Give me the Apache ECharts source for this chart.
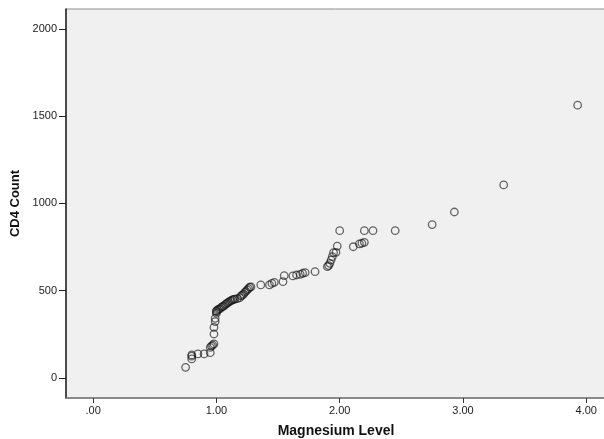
<!DOCTYPE html>
<html>
<head>
<meta charset="utf-8">
<script src="https://cdn.jsdelivr.net/npm/echarts@6/dist/echarts.min.js"></script>
<style>
  html, body { margin: 0; padding: 0; background: #fff; }
  #chart { width: 604px; height: 439px; }
</style>
</head>
<body>
<div id="chart"></div>
<script>
// magnesium level (x) and CD4 count (y)
var magnesium = [
  0.75, 0.80, 0.80, 0.80, 0.85, 0.90, 0.95, 0.95, 0.96, 0.97, 0.98,
  0.98, 0.98, 0.99, 0.99, 1.00, 1.00, 1.00, 1.01, 1.02, 1.03, 1.04,
  1.05, 1.06, 1.07, 1.08, 1.09, 1.10, 1.11, 1.12, 1.13, 1.14, 1.15,
  1.17, 1.19, 1.20, 1.21, 1.22, 1.23, 1.24, 1.25, 1.26, 1.27, 1.28,
  1.36, 1.43, 1.45, 1.47, 1.54, 1.55, 1.62, 1.65, 1.68, 1.70, 1.72,
  1.80, 1.90, 1.91, 1.92, 1.93, 1.94, 1.95, 1.97, 1.98, 2.00, 2.11,
  2.16, 2.18, 2.20, 2.20, 2.27, 2.45, 2.75, 2.93, 3.33, 3.93
];
var cd4 = [
  61, 109, 125, 132, 138, 138, 145, 175, 183, 189, 195,
  252, 290, 323, 342, 371, 380, 385, 390, 395, 398, 405,
  410, 412, 420, 425, 430, 435, 440, 443, 447, 450, 452,
  455, 460, 470, 475, 480, 490, 497, 505, 512, 520, 522,
  533, 533, 542, 548, 552, 586, 585, 590, 594, 600, 604,
  609, 638, 644, 657, 676, 695, 718, 720, 756, 844, 752,
  768, 772, 777, 844, 844, 844, 879, 951, 1106, 1563
];
var xTicks = [0, 1, 2, 3, 4];
var yTicks = [0, 500, 1000, 1500, 2000];

var points = magnesium.map(function (m, i) { return [m, cd4[i]]; });

var chart = echarts.init(document.getElementById('chart'));
var font = 'Liberation Sans, Arial, sans-serif';

var option = {
  animation: false,
  backgroundColor: '#ffffff',
  grid: {
    left: 66, right: -2, top: 9, bottom: 41,
    outerBoundsMode: 'none',
    containLabel: false,
    show: true,
    backgroundColor: '#f0f0f0',
    borderColor: '#8c8c8c',
    borderWidth: 1
  },
  xAxis: {
    type: 'value',
    min: -0.22,
    max: 4.16,
    name: 'Magnesium Level',
    nameLocation: 'middle',
    nameGap: 26,
    nameTextStyle: { fontFamily: font, fontSize: 14, fontWeight: 'bold', color: '#111' },
    axisLine: { show: true, onZero: false, lineStyle: { color: '#777', width: 1.5 } },
    axisTick: { show: true, customValues: xTicks, length: 5, lineStyle: { color: '#333' } },
    axisLabel: {
      customValues: xTicks,
      fontFamily: font, fontSize: 11, color: '#222', margin: 7,
      formatter: function (v) { return v === 0 ? '.00' : v.toFixed(2); }
    },
    splitLine: { show: false }
  },
  yAxis: {
    type: 'value',
    min: -114.6,
    max: 2114,
    name: 'CD4 Count',
    nameLocation: 'middle',
    nameGap: 42,
    nameTextStyle: { fontFamily: font, fontSize: 13, fontWeight: 'bold', color: '#111' },
    axisLine: { show: true, onZero: false, lineStyle: { color: '#222', width: 1.5 } },
    axisTick: { show: true, customValues: yTicks, length: 7, lineStyle: { color: '#222' } },
    axisLabel: {
      customValues: yTicks,
      fontFamily: font, fontSize: 11, color: '#222', margin: 9,
      formatter: function (v) { return String(v); }
    },
    splitLine: { show: false }
  },
  series: [
    {
      type: 'scatter',
      data: points,
      symbol: 'circle',
      symbolSize: 7.5,
      itemStyle: {
        color: 'rgba(0,0,0,0)',
        borderColor: 'rgba(20,20,20,0.8)',
        borderWidth: 1.3
      }
    }
  ]
};

chart.setOption(option);
</script>
</body>
</html>
